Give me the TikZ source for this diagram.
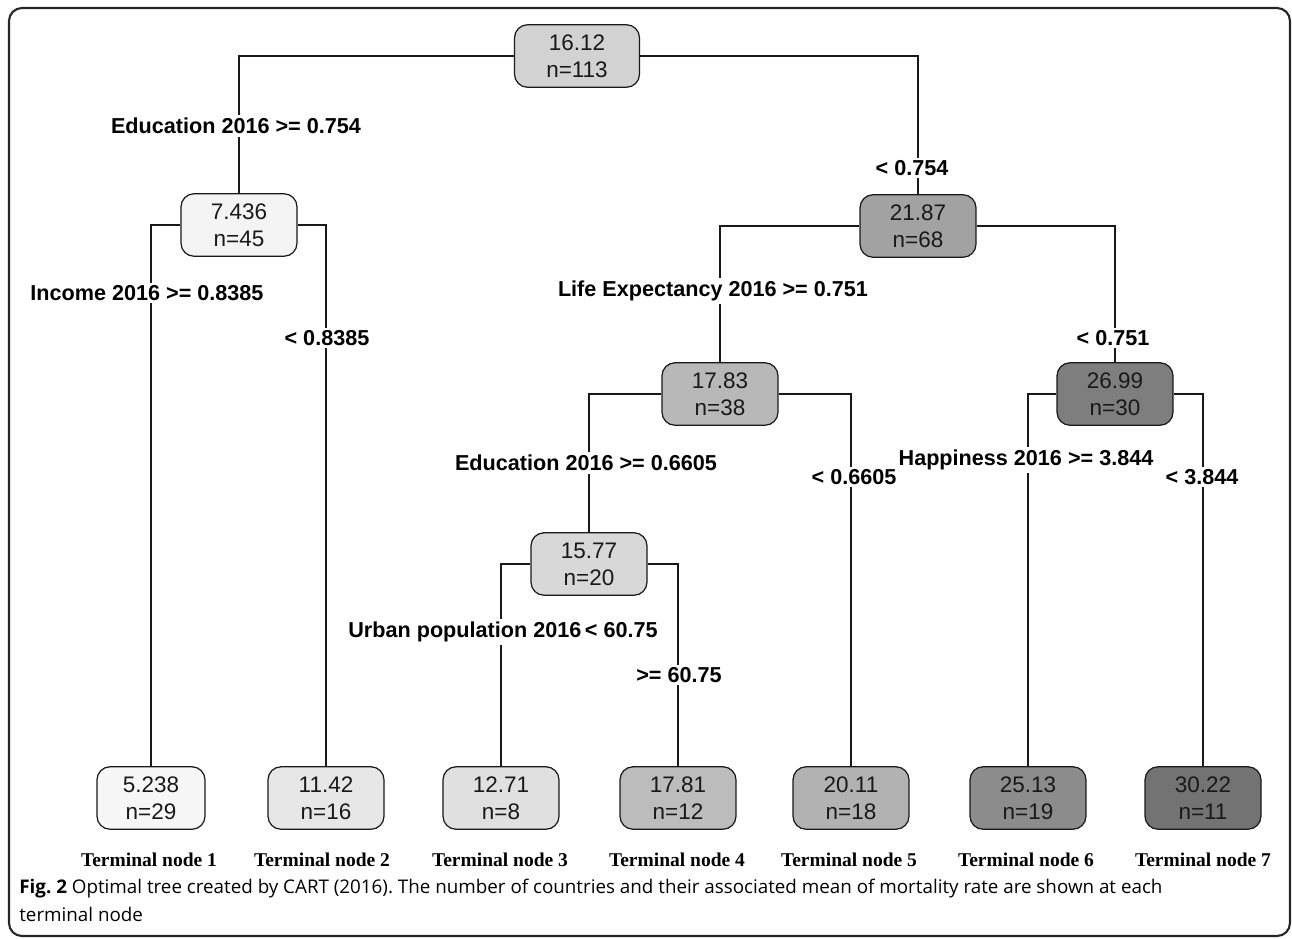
\documentclass[tikz,border=0pt]{standalone}
\usepackage{fontspec}
\setmainfont{Liberation Sans}
\newfontfamily\capfont{Open Sans}
\newfontfamily\termfont{Liberation Serif}
\frenchspacing
\definecolor{cR}{HTML}{D2D2D2}
\definecolor{cA}{HTML}{F4F4F4}
\definecolor{cB}{HTML}{A2A2A2}
\definecolor{cC}{HTML}{B8B8B8}
\definecolor{cD}{HTML}{7E7E7E}
\definecolor{cE}{HTML}{D8D8D8}
\definecolor{cT1}{HTML}{F7F7F7}
\definecolor{cT2}{HTML}{E7E7E7}
\definecolor{cT3}{HTML}{E0E0E0}
\definecolor{cT4}{HTML}{BCBCBC}
\definecolor{cT5}{HTML}{B2B2B2}
\definecolor{cT6}{HTML}{8C8C8C}
\definecolor{cT7}{HTML}{737373}
\tikzset{
 tn/.style={draw=black!90, line width=0.7pt, rounded corners=0.26cm, minimum width=2.32cm, minimum height=1.25cm, align=center, inner sep=0pt, text=black!90, font=\fontsize{12.8}{15.3}\selectfont},
 lab/.style={fill=white, inner sep=1.5pt, font=\fontsize{12.3}{14}\selectfont\bfseries},
 term/.style={anchor=base, font=\termfont\bfseries\fontsize{11.1}{13}\selectfont},
 edge/.style={line width=0.75pt, draw=black!90},
 capt/.style={anchor=base west, inner sep=0pt, font=\capfont\fontsize{10.7}{14}\selectfont}
}
\begin{document}
\begin{tikzpicture}[x=0.02cm,y=-0.02cm]
\useasboundingbox (0,0) rectangle (1292,938);
\draw[line width=1.2pt, black!85, rounded corners=0.26cm] (9,8) rectangle (1290,936);
% inner nodes
\node[tn, fill=cR, minimum width=2.5cm] (r) at (577,56) {16.12\\n=113};
\node[tn, fill=cA] (a) at (239,225) {7.436\\n=45};
\node[tn, fill=cB] (b) at (918,226) {21.87\\n=68};
\node[tn, fill=cC] (c) at (720,394) {17.83\\n=38};
\node[tn, fill=cD] (d) at (1115,394) {26.99\\n=30};
\node[tn, fill=cE] (e) at (589,564) {15.77\\n=20};
% terminal nodes
\node[tn, fill=cT1, minimum width=2.16cm] (t1) at (151,798) {5.238\\n=29};
\node[tn, fill=cT2] (t2) at (326,798) {11.42\\n=16};
\node[tn, fill=cT3] (t3) at (501,798) {12.71\\n=8};
\node[tn, fill=cT4] (t4) at (678,798) {17.81\\n=12};
\node[tn, fill=cT5] (t5) at (851,798) {20.11\\n=18};
\node[tn, fill=cT6] (t6) at (1028,798) {25.13\\n=19};
\node[tn, fill=cT7] (t7) at (1203,798) {30.22\\n=11};
% connectors
\draw[edge] (r.west) -| (a.north);
\draw[edge] (r.east) -| (b.north);
\draw[edge] (a.west) -| (t1.north);
\draw[edge] (a.east) -| (t2.north);
\draw[edge] (b.west) -| (c.north);
\draw[edge] (b.east) -| (d.north);
\draw[edge] (c.west) -| (e.north);
\draw[edge] (c.east) -| (t5.north);
\draw[edge] (d.west) -| (t6.north);
\draw[edge] (d.east) -| (t7.north);
\draw[edge] (e.west) -| (t3.north);
\draw[edge] (e.east) -| (t4.north);
% split labels
\node[lab] (l1) at (236,126) {Education 2016 >= 0.754};
\node[lab] (l2) at (912,168) {< 0.754};
\node[lab] (l3) at (147,293) {Income 2016 >= 0.8385};
\node[lab] (l4) at (327,338) {< 0.8385};
\node[lab] (l5) at (713,291) {Life Expectancy 2016 >= 0.751};
\node[lab] (l6) at (1113,338) {< 0.751};
\node[lab] (l7) at (586,463) {Education 2016 >= 0.6605};
\node[lab] (l8) at (854,477) {< 0.6605};
\node[lab] (l9) at (1026,460) {Happiness 2016 >= 3.844};
\node[lab] (l10) at (1202,477) {< 3.844};
\node[lab] (l11) at (503,632) {Urban population 2016\,< 60.75};
\node[lab] (l12) at (679,675) {>= 60.75};
% terminal labels
\node[term] (n1) at (149,866) {Terminal node 1};
\node[term] (n2) at (322,866) {Terminal node 2};
\node[term] (n3) at (500,866) {Terminal node 3};
\node[term] (n4) at (677,866) {Terminal node 4};
\node[term] (n5) at (849,866) {Terminal node 5};
\node[term] (n6) at (1026,866) {Terminal node 6};
\node[term] (n7) at (1203,866) {Terminal node 7};
% caption
\node[capt] (cap1) at (19,893) {\textbf{Fig. 2} Optimal tree created by CART (2016). The number of countries and their associated mean of mortality rate are shown at each};
\node[capt] (cap2) at (19,921) {terminal node};
\end{tikzpicture}
\end{document}
